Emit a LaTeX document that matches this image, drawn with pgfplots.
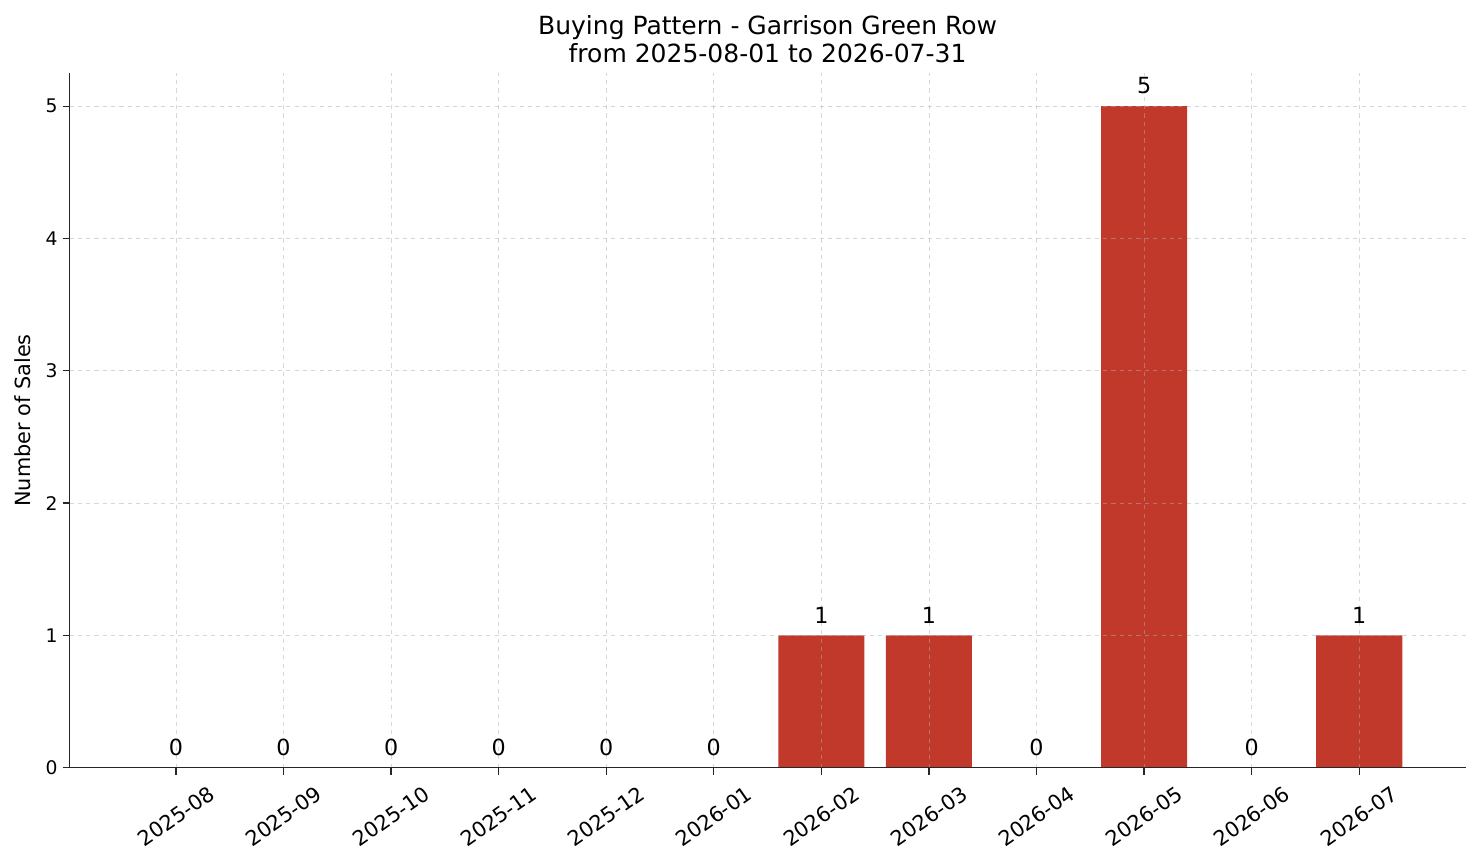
\documentclass[border=0pt]{standalone}
\usepackage{fontspec}
\setmainfont{DejaVu Sans}
\usepackage{pgfplots}
\pgfplotsset{compat=1.18}
\definecolor{barred}{HTML}{C0392B}
\definecolor{gridgray}{HTML}{B0B0B0}
\begin{document}
\begin{tikzpicture}
\begin{axis}[
  scale only axis,
  width=1005pt, height=500pt,
  xmin=-0.99, xmax=11.99,
  ymin=0, ymax=5.25,
  axis lines*=left,
  axis line style={line width=0.9pt, black!85},
  xtick={0,...,11},
  xticklabels={2025-08,2025-09,2025-10,2025-11,2025-12,2026-01,2026-02,2026-03,2026-04,2026-05,2026-06,2026-07},
  x tick label style={yshift=-30pt, rotate=35, anchor=center, font=\fontsize{15}{17}\selectfont},
  ytick={0,1,2,3,4,5},
  y tick label style={font=\fontsize{13.5}{15}\selectfont},
  /pgf/number format/assume math mode=true,
  tick style={black!85, line width=0.9pt},
  tick align=outside,
  major tick length=5pt,
  grid=major,
  major grid style={dashed, gridgray, opacity=0.5, line width=0.5pt},
  axis on top,
  ylabel={Number of Sales},
  ylabel style={font=\fontsize{15}{17}\selectfont, yshift=4pt},
  title={Buying Pattern - Garrison Green Row\\from 2025-08-01 to 2026-07-31},
  title style={font=\fontsize{18}{20}\selectfont, align=center, yshift=-2pt},
  ybar, bar width=0.8,
  nodes near coords,
  every node near coord/.append style={font=\fontsize{16}{18}\selectfont, yshift=5pt},
]
\addplot[fill=barred, draw=none] coordinates {
  (0,0) (1,0) (2,0) (3,0) (4,0) (5,0) (6,1) (7,1) (8,0) (9,5) (10,0) (11,1)
};
\end{axis}
\pgfresetboundingbox
\path ([xshift=-50pt,yshift=-69pt]current axis.south west) rectangle ([xshift=11pt,yshift=52.6pt]current axis.north east);
\end{tikzpicture}
\end{document}
